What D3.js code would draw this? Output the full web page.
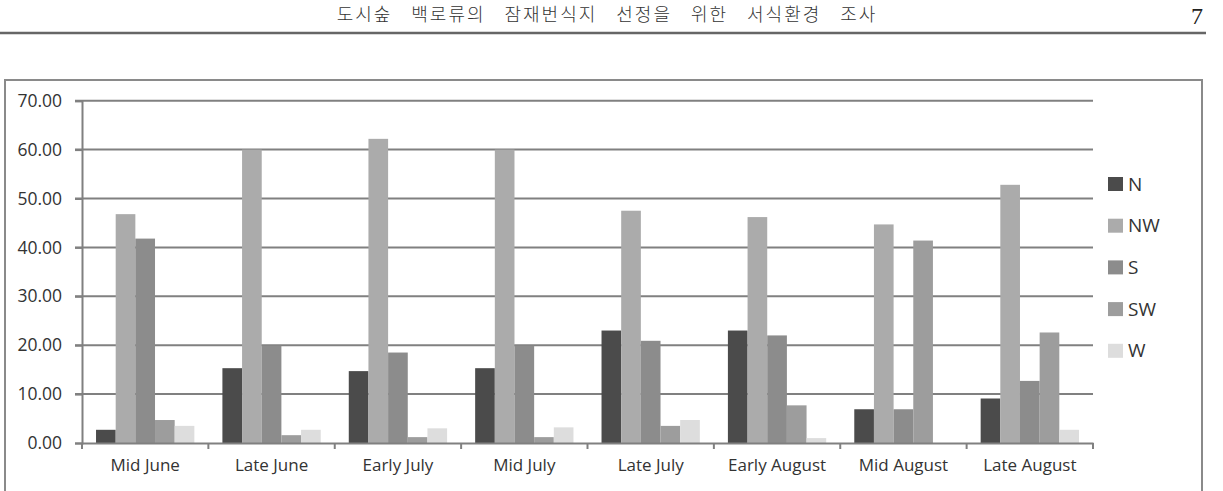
<!DOCTYPE html>
<html>
<head>
<meta charset="utf-8">
<script src="https://cdn.jsdelivr.net/npm/d3@7"></script>
<style>
  body { margin: 0; background: #fff; }
  svg { display: block; }
</style>
</head>
<body>
<div id="chart"></div>
<script>
// values
var periods = ['Mid June', 'Late June', 'Early July', 'Mid July', 'Late July', 'Early August', 'Mid August', 'Late August'];
var directions = ['N', 'NW', 'S', 'SW', 'W'];
var valN  = [2.7, 15.3, 14.7, 15.3, 23.0, 23.0, 6.9, 9.1];
var valNW = [46.8, 60.0, 62.2, 60.0, 47.5, 46.2, 44.7, 52.8];
var valS  = [41.8, 19.9, 18.5, 19.9, 20.9, 22.0, 6.9, 12.7];
var valSW = [4.7, 1.6, 1.2, 1.2, 3.5, 7.7, 41.4, 22.6];
var valW  = [3.5, 2.7, 3.0, 3.2, 4.7, 1.0, 0.0, 2.7];
var yTicks = [0, 10, 20, 30, 40, 50, 60, 70];
var barColors = ['#4b4b4b', '#ababab', '#8c8c8c', '#9d9d9d', '#dddddd'];
var pageTitle = '도시숲 백로류의 잠재번식지 선정을 위한 서식환경 조사';
var pageNum = '7';

var W = 1223, H = 491;
var series = [valN, valNW, valS, valSW, valW];
var chartFont = '"Open Sans", sans-serif';

var svg = d3.select('#chart').append('svg')
  .attr('width', W)
  .attr('height', H);

// page header
svg.append('text')
  .attr('x', 607)
  .attr('y', 21)
  .attr('text-anchor', 'middle')
  .style('font-family', '"Noto Sans CJK KR", sans-serif')
  .style('font-size', '18px')
  .style('font-weight', 300)
  .style('letter-spacing', '2px')
  .style('word-spacing', '13px')
  .style('fill', '#333')
  .text(pageTitle);
svg.append('text')
  .attr('x', 1203)
  .attr('y', 24)
  .attr('text-anchor', 'end')
  .style('font-family', '"Liberation Serif", serif')
  .style('font-size', '24px')
  .style('fill', '#222')
  .text(pageNum);
svg.append('line')
  .attr('x1', 0).attr('x2', 1206)
  .attr('y1', 33).attr('y2', 33)
  .style('stroke', '#666')
  .style('stroke-width', 2.5);

// chart frame
svg.append('rect')
  .attr('x', 5).attr('y', 80)
  .attr('width', 1197).attr('height', 420)
  .style('fill', 'none')
  .style('stroke', '#8a8a8a')
  .style('stroke-width', 2);

var m = { left: 82, right: 1093, top: 100.7, bottom: 443 };

var y = d3.scaleLinear().domain([0, 70]).range([m.bottom, m.top]);
var x0 = d3.scaleBand().domain(periods).range([m.left, m.right])
  .paddingInner(0.222).paddingOuter(0.111);
var x1 = d3.scaleBand().domain(directions).range([0, x0.bandwidth()]);

// gridlines
svg.append('g')
  .selectAll('line')
  .data(yTicks.filter(function (d) { return d > 0; }))
  .join('line')
  .attr('x1', m.left - 7).attr('x2', m.right)
  .attr('y1', function (d) { return y(d); })
  .attr('y2', function (d) { return y(d); })
  .style('stroke', '#808080')
  .style('stroke-width', 2);

// bars
var groups = svg.append('g')
  .selectAll('g')
  .data(periods)
  .join('g')
  .attr('transform', function (d) { return 'translate(' + x0(d) + ',0)'; });

groups.selectAll('rect')
  .data(function (p, i) {
    return directions.map(function (dir, k) {
      return { dir: dir, k: k, v: series[k][i] };
    });
  })
  .join('rect')
  .attr('x', function (d) { return x1(d.dir); })
  .attr('y', function (d) { return y(d.v); })
  .attr('width', x1.bandwidth())
  .attr('height', function (d) { return y(0) - y(d.v); })
  .style('fill', function (d) { return barColors[d.k]; });

// y axis
var yAxis = svg.append('g')
  .attr('transform', 'translate(' + m.left + ',0)')
  .call(d3.axisLeft(y).tickValues(yTicks).tickFormat(d3.format('.2f')).tickSize(7).tickPadding(13));
yAxis.select('.domain').style('stroke', '#808080').style('stroke-width', 2);
yAxis.selectAll('.tick line').style('stroke', '#808080').style('stroke-width', 2);
yAxis.selectAll('text')
  .style('font-family', chartFont)
  .style('font-size', '17.5px')
  .style('fill', '#333');

// x axis
var xAxis = svg.append('g')
  .attr('transform', 'translate(0,' + m.bottom + ')')
  .call(d3.axisBottom(x0).tickSize(0).tickPadding(16));
xAxis.select('.domain').style('stroke', '#808080').style('stroke-width', 2);
xAxis.selectAll('text')
  .style('font-family', chartFont)
  .style('font-size', '17px')
  .style('fill', '#333');

// boundary ticks between categories
var step = x0.step();
svg.append('g')
  .selectAll('line')
  .data(d3.range(periods.length + 1))
  .join('line')
  .attr('x1', function (i) { return m.left + i * step; })
  .attr('x2', function (i) { return m.left + i * step; })
  .attr('y1', m.bottom)
  .attr('y2', m.bottom + 6)
  .style('stroke', '#808080')
  .style('stroke-width', 2);

// legend
var legend = svg.append('g')
  .selectAll('g')
  .data(directions)
  .join('g')
  .attr('transform', function (d, i) { return 'translate(1108,' + (184 + i * 41.7) + ')'; });
legend.append('rect')
  .attr('x', 0).attr('y', -7)
  .attr('width', 15).attr('height', 14)
  .style('fill', function (d, i) { return barColors[i]; });
legend.append('text')
  .attr('x', 20)
  .attr('y', 0)
  .attr('dy', '0.35em')
  .style('font-family', chartFont)
  .style('font-size', '19px')
  .style('fill', '#333')
  .text(function (d) { return d; });
</script>
</body>
</html>
